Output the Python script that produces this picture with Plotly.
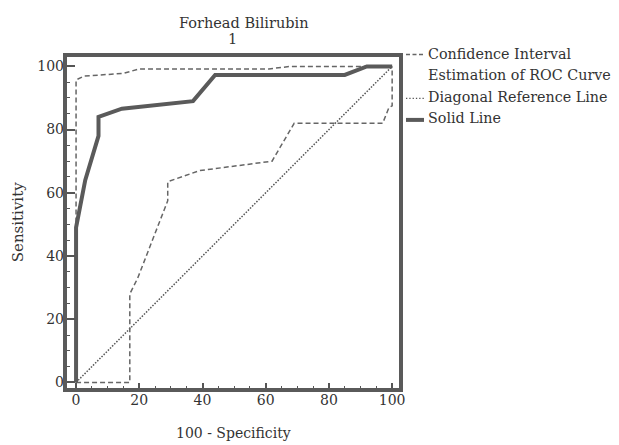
import plotly.graph_objects as go

# ---- data ----
roc_x = [0, 0, 2.9, 7.1, 7.1, 14.5, 37, 44, 85, 92, 100]
roc_y = [0, 49, 64, 78, 84, 86.6, 89, 97.3, 97.3, 100, 100]

ci_upper_x = [0, 0, 2.5, 15, 20, 61, 68, 100]
ci_upper_y = [0, 95.7, 96.9, 97.8, 99.2, 99.2, 100, 100]

ci_lower_x = [0, 17, 17, 19.5, 29, 29, 39, 62, 69, 97, 99, 100, 100]
ci_lower_y = [0, 0, 28, 33, 57.5, 63.5, 67, 70, 82, 82, 87, 87.5, 100]

diag_x = [0, 100]
diag_y = [0, 100]

tick_vals = [0, 20, 40, 60, 80, 100]
tick_text = ["0", "20", "40", "60", "80", "100"]

title_text = "Forhead Bilirubin"
subtitle_text = "1"
x_title = "100 - Specificity"
y_title = "Sensitivity"
legend_labels = ["Confidence Interval", "Estimation of ROC Curve",
                 "Diagonal Reference Line", "Solid Line"]

# ---- layout geometry (page pixels; body has an 8px default margin) ----
OFF = 8
W, H = 619 - OFF, 445 - OFF
L, R, T, B = 65 - OFF, 401 - OFF, 54.5 - OFF, 390 - OFF
FONT = "DejaVu Serif"
GREY = "#5a5a5a"
TXT = "#333333"


def px(xp):
    return (xp - OFF - L) / (R - L)


def py(yp):
    return (B - (yp - OFF)) / (B - T)


fig = go.Figure()
fig.add_trace(go.Scatter(x=diag_x, y=diag_y, mode="lines",
                         line=dict(color="#555555", width=1.5, dash="1.5px,1.5px"),
                         name="Diagonal Reference Line", showlegend=False))
fig.add_trace(go.Scatter(x=ci_upper_x, y=ci_upper_y, mode="lines",
                         line=dict(color="#666666", width=1.5, dash="5px,3px"),
                         name="CI upper", showlegend=False))
fig.add_trace(go.Scatter(x=ci_lower_x, y=ci_lower_y, mode="lines",
                         line=dict(color="#666666", width=1.5, dash="5px,3px"),
                         name="CI lower", showlegend=False))
fig.add_trace(go.Scatter(x=roc_x, y=roc_y, mode="lines",
                         line=dict(color=GREY, width=4),
                         name="Solid Line", showlegend=False))

axis_common = dict(showgrid=False, zeroline=False, showline=False,
                   ticks="inside", tickcolor="#555555", tickwidth=1.5,
                   tickvals=tick_vals, ticktext=tick_text,
                   tickfont=dict(family=FONT, size=14, color=TXT),
                   fixedrange=True)

fig.update_xaxes(range=[-3.5, 102.8], ticklen=7,
                 minor=dict(ticks="inside", dtick=5, ticklen=4,
                            tickcolor="#555555", tickwidth=1.2),
                 **axis_common)
fig.update_yaxes(range=[-2.4, 103.6], ticklen=10,
                 minor=dict(ticks="inside", dtick=5, ticklen=5,
                            tickcolor="#555555", tickwidth=1.2),
                 **axis_common)

shapes = [
    dict(type="rect", xref="paper", yref="paper", x0=0, x1=1, y0=0, y1=1,
         line=dict(color=GREY, width=4)),
    # legend symbols
    dict(type="line", xref="paper", yref="paper", x0=px(406), x1=px(424),
         y0=py(54), y1=py(54), line=dict(color="#666666", width=1.3, dash="4px,2.5px")),
    dict(type="line", xref="paper", yref="paper", x0=px(406), x1=px(424),
         y0=py(98), y1=py(98), line=dict(color="#555555", width=1.3, dash="1.3px,2px")),
    dict(type="line", xref="paper", yref="paper", x0=px(406), x1=px(424),
         y0=py(119.5), y1=py(119.5), line=dict(color=GREY, width=4)),
]

ann = []


def add_text(text, xp, yp, size=14, xanchor="center", angle=0):
    ann.append(dict(text=text, xref="paper", yref="paper", x=px(xp), y=py(yp),
                    xanchor=xanchor, yanchor="middle", showarrow=False,
                    textangle=angle,
                    font=dict(family=FONT, size=size, color=TXT)))


add_text(title_text, 243, 22, size=14.5)
add_text(subtitle_text, 232, 38, size=14.5)
add_text(x_title, 233, 433, size=14)
add_text(y_title, 18, 222, size=15, angle=-90)
add_text(legend_labels[0], 426, 53, size=14.3, xanchor="left")
add_text(legend_labels[1], 426, 75, size=14.3, xanchor="left")
add_text(legend_labels[2], 426, 97, size=14.3, xanchor="left")
add_text(legend_labels[3], 426, 118, size=14.3, xanchor="left")

fig.update_layout(width=W, height=H,
                  margin=dict(l=L, r=W - R, t=T, b=H - B, pad=0),
                  plot_bgcolor="white", paper_bgcolor="white",
                  showlegend=False, shapes=shapes, annotations=ann)

fig.write_html("out.html", config={"displayModeBar": False})
